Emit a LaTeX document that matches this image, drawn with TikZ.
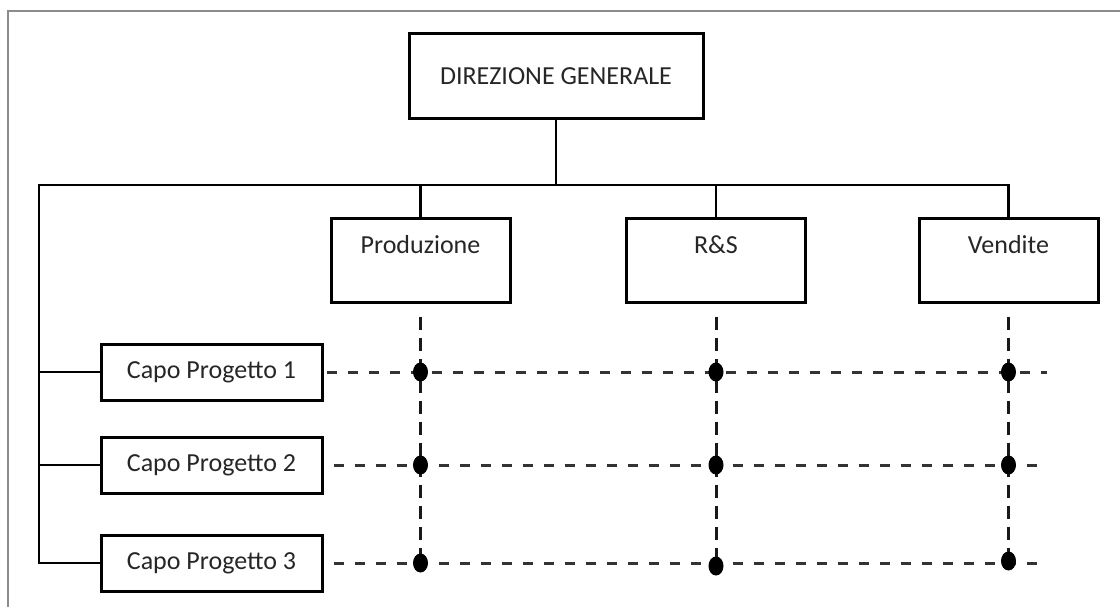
\documentclass[tikz,border=0pt]{standalone}
\usepackage{fontspec}
\setmainfont{Carlito}
\usetikzlibrary{calc,shapes.geometric}
\tikzset{
  box/.style={draw=black, line width=3pt, inner sep=0pt, font=\fontsize{26}{31}\selectfont, text=black!85},
  dept/.style={box, minimum width=179pt, minimum height=83pt},
  capo/.style={box, minimum width=221pt, minimum height=56pt},
  solidline/.style={line width=2.8pt, line cap=rect},
  dashline/.style={line width=3pt, black!80, dash pattern=on 10pt off 11pt},
  vdashline/.style={line width=3pt, black!90, dash pattern=on 13pt off 8pt},
  dot/.style={ellipse, fill=black, inner sep=0pt, minimum width=15pt, minimum height=19pt},
  frameline/.style={line width=1.2pt, black!45}
}
\begin{document}
\begin{tikzpicture}[x=1pt, y=-1pt]
  \useasboundingbox (0,0) rectangle (1120,607);
  % outer frame (top and left edges)
  \draw[frameline] (8,607) -- (8,11) -- (1120,11);

  % top management
  \node[box, minimum width=294pt, minimum height=85pt] (dg) at (556,76.5) {DIREZIONE GENERALE};

  % functional departments, label near the top of each box
  \node[dept] (prod) at (420.5,260.5) {};
  \node[dept] (rs)   at (716,260.5) {};
  \node[dept] (vend) at (1008.5,260.5) {};
  \node[box, draw=none, anchor=base] (prodt) at ($(prod.north)+(0,36)$) {Produzione};
  \node[box, draw=none, anchor=base] (rst)   at ($(rs.north)+(0,36)$) {R\&S};
  \node[box, draw=none, anchor=base] (vendt) at ($(vend.north)+(0,36)$) {Vendite};

  % project managers
  \node[capo] (cp1) at (211.5,372) {Capo Progetto 1};
  \node[capo] (cp2) at (211.5,465) {Capo Progetto 2};
  \node[capo] (cp3) at (211.5,563) {Capo Progetto 3};

  % hierarchy bus
  \coordinate (busL) at (39,185);
  \coordinate (busR) at (1008,185);
  \coordinate (dashEnd) at (1047,0);
  \draw[solidline] (dg.south) -- (dg.south |- busL);
  \draw[solidline] (busL) -- (busR);
  \draw[solidline] (prod.north) -- (prod.north |- busL);
  \draw[solidline] (rs.north) -- (rs.north |- busL);
  \draw[solidline] (vend.north) -- (vend.north |- busL);
  \draw[solidline] (busL) -- (busL |- cp3) -- (cp3.west);
  \draw[solidline] (busL |- cp1) -- (cp1.west);
  \draw[solidline] (busL |- cp2) -- (cp2.west);

  % matrix links: dashed rows and columns
  \draw[dashline] ($(cp1.east)+(3,0)$) -- (cp1 -| dashEnd);
  \draw[dashline] ($(cp2.east)+(10,0)$) -- (cp2 -| dashEnd);
  \draw[dashline] ($(cp3.east)+(10,0)$) -- (cp3 -| dashEnd);
  \draw[vdashline] ($(prod.south)+(0,13)$) -- (prod.south |- cp3);
  \draw[vdashline] ($(rs.south)+(0,13)$) -- (rs.south |- cp3);
  \draw[vdashline] ($(vend.south)+(0,13)$) -- (vend.south |- cp3);

  % intersection markers
  \node[dot] (d11) at (prod.south |- cp1) {};
  \node[dot] (d12) at (rs.south |- cp1) {};
  \node[dot] (d13) at (vend.south |- cp1) {};
  \node[dot] (d21) at (prod.south |- cp2) {};
  \node[dot] (d22) at (rs.south |- cp2) {};
  \node[dot] (d23) at (vend.south |- cp2) {};
  \node[dot] (d31) at (prod.south |- cp3) {};
  \node[dot] (d32) at ($(rs.south |- cp3)+(0,3)$) {};
  \node[dot] (d33) at ($(vend.south |- cp3)+(0,-2)$) {};
\end{tikzpicture}
\end{document}
